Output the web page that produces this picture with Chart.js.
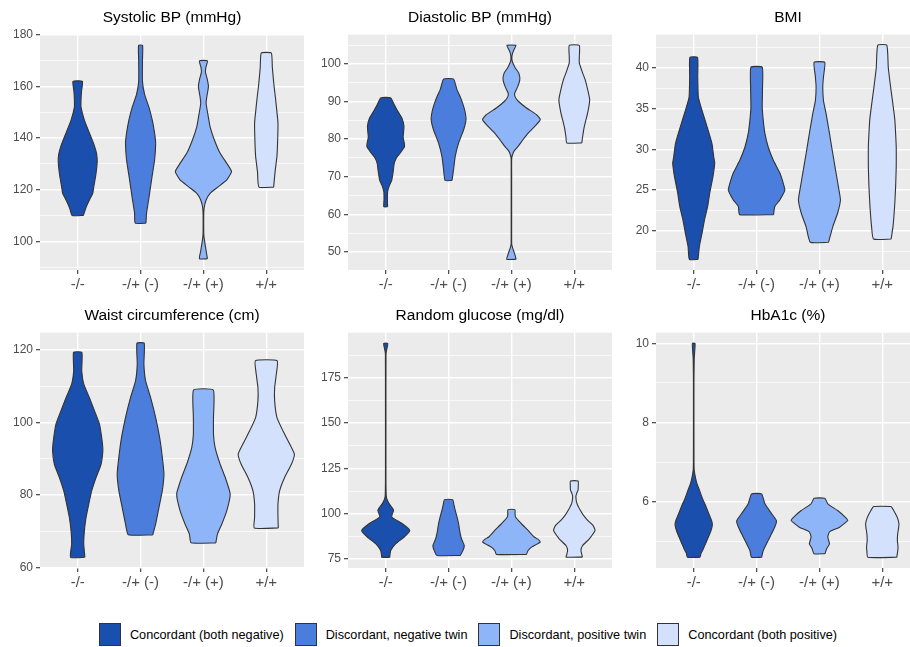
<!DOCTYPE html>
<html>
<head>
<meta charset="utf-8">
<script src="https://cdn.jsdelivr.net/npm/chart.js@4/dist/chart.umd.min.js"></script>
<style>
  html, body { margin: 0; padding: 0; background: #fff; width: 910px; height: 647px; overflow: hidden; position: relative; }
  canvas { position: absolute; }
  #legend { position: absolute; left: 13px; top: 623px; width: 910px; display: flex; justify-content: center;
            font: 12.7px "Liberation Sans", Arial, sans-serif; color: #000; }
  .item { display: flex; align-items: center; margin: 0 5.5px; }
  .key { width: 22px; height: 23px; box-sizing: border-box; border: 1px solid #333; margin-right: 9px; }
</style>
</head>
<body>
<canvas id="p0" width="304" height="300" style="left:0px;top:0px"></canvas>
<canvas id="p1" width="304" height="300" style="left:308px;top:0px"></canvas>
<canvas id="p2" width="304" height="300" style="left:616px;top:0px"></canvas>
<canvas id="p3" width="304" height="300" style="left:0px;top:298px"></canvas>
<canvas id="p4" width="304" height="300" style="left:308px;top:298px"></canvas>
<canvas id="p5" width="304" height="300" style="left:616px;top:298px"></canvas>
<div id="legend"></div>
<script>
const FONT = '"Liberation Sans", Arial, sans-serif';

const categories = ['-/-', '-/+ (-)', '-/+ (+)', '+/+'];
const groups = ['Concordant (both negative)', 'Discordant, negative twin', 'Discordant, positive twin', 'Concordant (both positive)'];
const fills = ['#1B4FAD', '#4A7DDC', '#8FB5F9', '#D3E1FC'];

const titles = ['Systolic BP (mmHg)', 'Diastolic BP (mmHg)', 'BMI', 'Waist circumference (cm)', 'Random glucose (mg/dl)', 'HbA1c (%)'];
const yLimits = [[88.85, 180.15], [45.15, 107.85], [15.2, 44.1], [59.85, 124.85], [70.1, 199.9], [4.33, 10.27]];
const majorTicks = [
  [100, 120, 140, 160, 180],
  [50, 60, 70, 80, 90, 100],
  [20, 25, 30, 35, 40],
  [60, 80, 100, 120],
  [75, 100, 125, 150, 175],
  [6, 8, 10]
];
const minorTicks = [
  [90, 110, 130, 150, 170],
  [55, 65, 75, 85, 95, 105],
  [17.5, 22.5, 27.5, 32.5, 37.5, 42.5],
  [70, 90, 110],
  [87.5, 112.5, 137.5, 162.5, 187.5],
  [5, 7, 9]
];

// violin profiles: [value, half width in category units], bottom to top, one per group
const systolic = [
  [[110,.09],[113,.13],[116,.186],[118.6,.24],[121,.255],[126,.29],[131,.31],[134,.3],[137,.266],[142,.186],[147,.106],[152,.053],[155,.053],[158,.06],[162,.075]],
  [[107,.085],[111,.096],[116,.128],[124,.176],[131.5,.223],[138,.24],[142,.223],[147,.186],[152,.133],[157,.064],[162,.03],[170,.03],[176,.032]],
  [[93.2,.064],[96,.045],[99,.025],[102,.008],[104,.005],[110,.005],[113,.012],[116,.043],[118.6,.106],[121.2,.24],[123.8,.372],[127,.447],[130.2,.372],[134.1,.266],[139.2,.176],[144.4,.106],[149.5,.069],[153.4,.043],[155.9,.053],[160,.08],[163,.06],[165.6,.032],[167.5,.04],[170,.064]],
  [[121,.117],[127,.14],[133,.17],[140,.182],[146,.186],[150,.17],[155,.149],[161,.12],[167.5,.096],[173,.08]]
];
const diastolic = [
  [[62,.03],[64,.027],[66,.03],[67.5,.055],[69,.095],[71.5,.12],[73.5,.135],[75,.17],[76.5,.24],[78,.3],[79,.295],[80.5,.277],[82,.285],[83.5,.29],[85.5,.26],[87.5,.19],[89,.14],[91,.08]],
  [[69,.055],[72,.08],[75.4,.106],[79,.16],[82.5,.24],[85.2,.277],[87.5,.26],[89.6,.223],[91.5,.18],[93.2,.133],[96,.08]],
  [[48,.075],[49,.06],[50,.04],[51,.02],[52,.005],[60,.004],[70,.004],[75,.005],[76.3,.027],[77,.05],[78.1,.106],[79.9,.186],[81.6,.266],[83.4,.372],[85.2,.46],[86.5,.4],[88.3,.24],[90.1,.11],[91.4,.055],[92.3,.053],[94,.1],[95.8,.133],[97.6,.117],[98.9,.064],[100,.03],[101,.01],[102,.008],[103,.02],[104,.045],[105,.072]],
  [[79,.12],[80.7,.133],[83.4,.16],[87,.213],[90.5,.245],[94,.202],[96,.17],[97.6,.133],[100.3,.08],[102,.08],[105,.08]]
];
const bmi = [
  [[16.5,.069],[18.1,.09],[19.7,.132],[21.3,.17],[23,.222],[24.6,.254],[26.7,.307],[28.3,.334],[29.1,.318],[30.7,.291],[32.8,.212],[34.8,.132],[36.4,.074],[38.9,.064],[41.3,.061]],
  [[22,.27],[23,.29],[23.8,.37],[25,.45],[25.6,.434],[27.1,.371],[28.7,.265],[30.3,.185],[32,.132],[33.6,.106],[35.2,.09],[37.7,.095],[40.1,.09]],
  [[18.6,.145],[20.5,.212],[22.2,.29],[23.8,.334],[25.4,.302],[27.1,.265],[29.5,.212],[32,.159],[34.4,.106],[36,.064],[37.7,.053],[38.9,.064],[40.7,.085]],
  [[19,.14],[20.5,.17],[23,.196],[25.4,.212],[27.9,.222],[30.3,.222],[32,.212],[33.6,.2],[35.2,.175],[37.7,.132],[40.1,.095],[42.8,.072]]
];
const waist = [
  [[62.8,.114],[66.5,.096],[70.1,.106],[73.8,.133],[77.5,.176],[81.2,.223],[84.9,.293],[88.5,.372],[92.2,.4],[95,.388],[99.6,.346],[103.3,.266],[106.9,.186],[110.6,.096],[114.3,.064],[119.4,.066]],
  [[69,.194],[72,.24],[76.6,.293],[81.2,.346],[85.8,.372],[90.4,.346],[95.9,.303],[101.4,.24],[106.9,.16],[111.5,.08],[116.1,.053],[121.9,.058]],
  [[66.8,.197],[69.2,.223],[72,.293],[75.7,.372],[80.3,.426],[84.9,.346],[88.5,.266],[93.1,.186],[96.8,.16],[101.4,.16],[109,.157]],
  [[70.9,.191],[73.8,.186],[77.5,.186],[81.2,.213],[84.9,.293],[88.5,.4],[91.3,.447],[94.1,.372],[97.7,.266],[101.4,.17],[106,.133],[109.7,.133],[113.4,.16],[117.1,.173]]
];
const glucose = [
  [[76,.066],[77,.066],[79.8,.08],[83.5,.16],[87.2,.293],[90.8,.383],[94.5,.266],[98.2,.096],[101.9,.125],[103,.11],[105.6,.053],[108,.02],[110,.008],[120,.004],[160,.004],[188,.005],[190,.012],[192,.025],[194,.032]],
  [[77,.186],[79.8,.23],[82.5,.25],[85,.22],[87.2,.197],[91,.175],[94.5,.16],[98.2,.135],[101.9,.106],[105,.085],[107.8,.066]],
  [[77.6,.24],[79.5,.26],[81.6,.32],[84.4,.457],[86,.42],[87.2,.362],[90.8,.266],[94.5,.16],[98.2,.064],[100,.058],[102.3,.056]],
  [[76.1,.13],[77.5,.12],[79.8,.106],[82.5,.133],[86.2,.24],[90.8,.33],[93.5,.3],[96.4,.213],[99,.15],[101.9,.096],[105.6,.043],[109.3,.025],[111,.035],[113,.06],[115,.063],[118.1,.061]]
];
const hba1c = [
  [[4.6,.1],[4.7,.117],[4.8,.15],[4.95,.19],[5.1,.23],[5.25,.27],[5.4,.295],[5.5,.29],[5.7,.24],[5.9,.19],[6.1,.135],[6.3,.09],[6.45,.053],[6.62,.027],[6.8,.008],[7,.005],[8,.004],[9,.004],[9.6,.008],[9.8,.016],[10,.021]],
  [[4.6,.08],[4.77,.106],[5.03,.186],[5.28,.266],[5.45,.31],[5.53,.315],[5.7,.24],[5.95,.133],[6.2,.08]],
  [[4.69,.088],[4.82,.117],[4.94,.16],[5.11,.133],[5.24,.16],[5.36,.32],[5.53,.45],[5.61,.413],[5.78,.29],[5.95,.133],[6.09,.085]],
  [[4.6,.23],[4.75,.245],[4.86,.25],[5.03,.24],[5.19,.245],[5.35,.26],[5.45,.265],[5.6,.24],[5.7,.21],[5.8,.175],[5.88,.138]]
];
const panels = [systolic, diastolic, bmi, waist, glucose, hba1c];

Chart.defaults.font.family = FONT;

// grey panel background behind the grid
const panelBg = {
  id: 'panelBg',
  beforeDraw(chart) {
    const { ctx, chartArea: a } = chart;
    ctx.save();
    ctx.fillStyle = '#EBEBEB';
    ctx.fillRect(a.left, a.top, a.right - a.left, a.bottom - a.top);
    ctx.restore();
  }
};

function violin(profile, g) {
  const c = g + 1;
  const right = profile.map(([v, w]) => ({ x: c + w, y: v }));
  const left = profile.slice().reverse().map(([v, w]) => ({ x: c - w, y: v }));
  return {
    data: right.concat(left, [right[0]]),
    showLine: true,
    fill: 'shape',
    backgroundColor: fills[g],
    borderColor: '#333333',
    borderWidth: 1.1,
    pointRadius: 0,
    pointHoverRadius: 0,
    tension: 0.15
  };
}

panels.forEach((profiles, i) => {
  const majors = majorTicks[i];
  const allTicks = majors.concat(minorTicks[i]).sort((a, b) => a - b);
  const isMajor = v => majors.includes(v);
  new Chart(document.getElementById('p' + i), {
    type: 'scatter',
    data: { datasets: profiles.map(violin) },
    options: {
      responsive: false,
      animation: false,
      events: [],
      layout: { padding: 0 },
      plugins: {
        legend: { display: false },
        tooltip: { enabled: false },
        title: {
          display: true, text: titles[i], fullSize: false, color: '#000',
          font: { size: 15.5, weight: 'normal' }, padding: { top: 8, bottom: 8 }
        }
      },
      scales: {
        x: {
          type: 'linear', min: 0.4, max: 4.6,
          afterBuildTicks: s => { s.ticks = categories.map((c, k) => ({ value: k + 1 })); },
          afterFit: s => { s.height = 30; },
          ticks: { callback: (v, k) => categories[k], color: '#4D4D4D', font: { size: 15 }, padding: 2, maxRotation: 0, autoSkip: false },
          grid: { color: '#FFFFFF', lineWidth: 1.4, tickColor: '#333333', tickLength: 4, tickWidth: 1.1 },
          border: { display: false }
        },
        y: {
          type: 'linear', min: yLimits[i][0], max: yLimits[i][1],
          afterBuildTicks: s => { s.ticks = allTicks.map(v => ({ value: v })); },
          afterFit: s => { s.width = 40; },
          ticks: { callback: v => isMajor(v) ? String(v) : '', color: '#4D4D4D', font: { size: 12 }, padding: 3, autoSkip: false },
          grid: {
            color: '#FFFFFF',
            lineWidth: ctx => isMajor(ctx.tick.value) ? 1.4 : 0.7,
            tickColor: ctx => isMajor(ctx.tick.value) ? '#333333' : 'rgba(0,0,0,0)',
            tickLength: 4, tickWidth: 1.1
          },
          border: { display: false }
        }
      }
    },
    plugins: [panelBg]
  });
});

const legend = document.getElementById('legend');
groups.forEach((name, g) => {
  const item = document.createElement('div');
  item.className = 'item';
  const key = document.createElement('span');
  key.className = 'key';
  key.style.background = fills[g];
  item.appendChild(key);
  item.appendChild(document.createTextNode(name));
  legend.appendChild(item);
});
</script>
</body>
</html>
